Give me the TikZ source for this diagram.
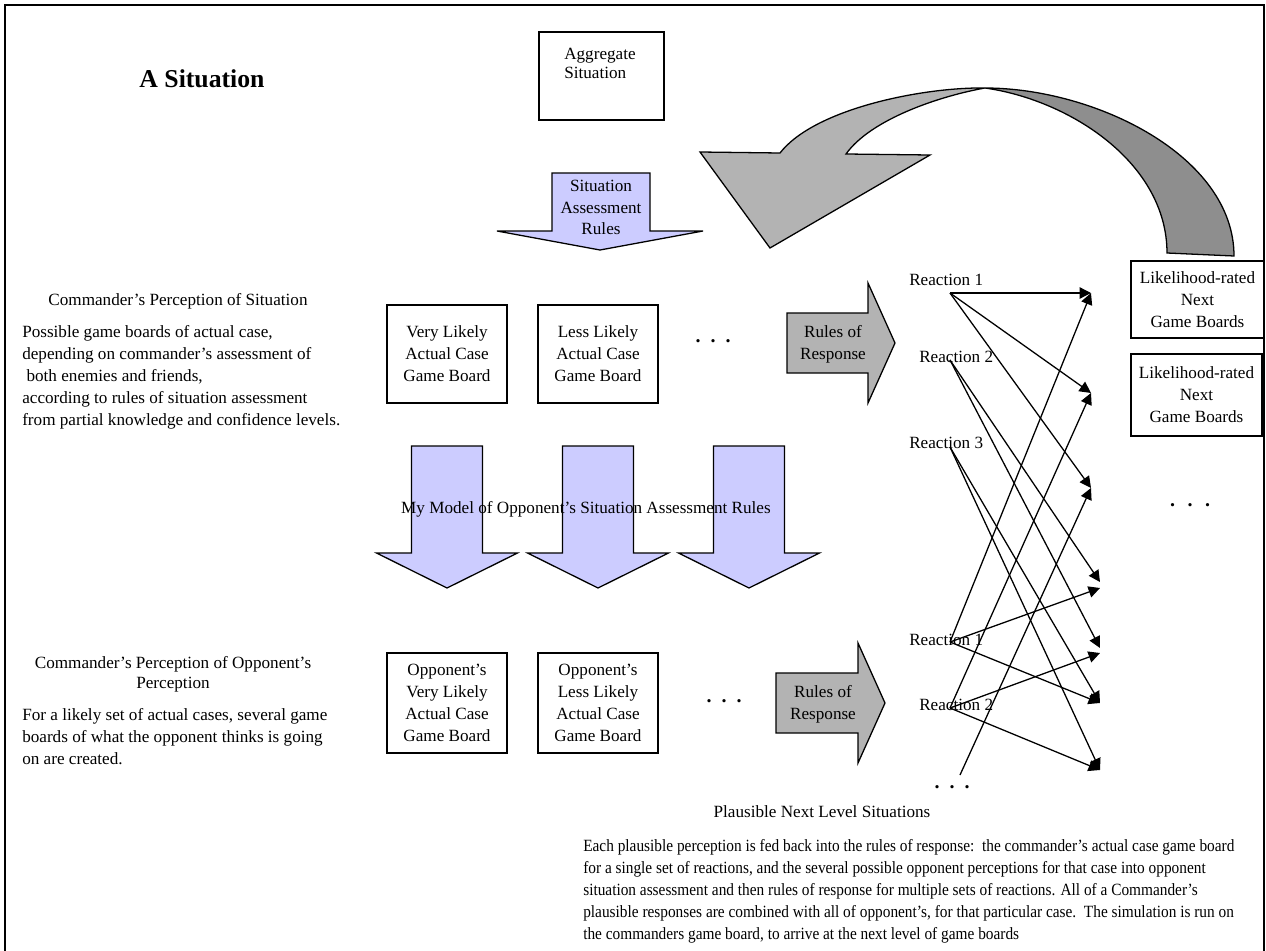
\documentclass[tikz,border=0pt]{standalone}
\usepackage{fontspec}
\setmainfont{Liberation Serif}
\newfontfamily\narrowserif{Liberation Serif}[FakeStretch=0.895, Ligatures=TeX]
\usetikzlibrary{arrows.meta}
\definecolor{lav}{HTML}{CCCCFF}
\definecolor{lgray}{HTML}{B3B3B3}
\definecolor{dgray}{HTML}{8E8E8E}
\begin{document}
\begin{tikzpicture}[x=0.7pt,y=-0.7pt,
  txt/.style={font=\fontsize{12}{15.4}\selectfont, inner sep=0pt},
  boxn/.style={draw, line width=0.9pt, inner sep=0pt, align=center, font=\fontsize{12}{15.4}\selectfont},
  bluearrow/.style={draw, line width=0.9pt, fill=lav},
  grayarrow/.style={draw, line width=0.9pt, fill=lgray},
  react/.style={line width=0.9pt, -{Triangle[length=8pt,width=8pt]}},
  ellip/.style={font=\fontsize{14}{14}\selectfont\bfseries, inner sep=0pt}
]
\useasboundingbox (0,0) rectangle (1266,951);
% frame
\draw[line width=1.5pt] (5,951) -- (5,5) -- (1264,5) -- (1264,951);

% title
\node[font=\fontsize{18}{20}\selectfont\bfseries, inner sep=0pt, anchor=base] (title) at (202,87) {A Situation};

% aggregate situation
\node[draw, line width=0.9pt, minimum width=87.5pt, minimum height=61.6pt, inner sep=0pt] (agg) at (601.5,76) {};
\node[txt, align=left, anchor=north west, font=\fontsize{12}{13.5}\selectfont] (aggt) at (564,47.5) {Aggregate\\Situation};

% situation assessment rules arrow
\draw[bluearrow] (552,173) -- (650,173) -- (650,231) -- (703,231) -- (600,250) -- (497,231) -- (552,231) -- cycle;
\node[txt, align=center, anchor=north, font=\fontsize{12}{15}\selectfont] (sar) at (601,180) {Situation\\Assessment\\Rules};

% curved feedback arrow
\draw[line width=0.9pt, fill=dgray] (985,88) .. controls (1095,88) and (1234,156) .. (1234,256) -- (1167,253) .. controls (1167,163) and (1070,100) .. (985,88) -- cycle;
\draw[line width=0.9pt, fill=lgray] (700,152) -- (780,153) .. controls (815,108) and (925,87) .. (985,88) .. controls (940,96) and (871,119) .. (846,154) -- (930,155) -- (770,248) -- cycle;

% left texts
\node[txt, anchor=base] (cps) at (178,305) {Commander's Perception of Situation};
\node[txt, align=left, anchor=north west] (cpsp) at (22,325) {Possible game boards of actual case,\\depending on commander's assessment of\\\hspace*{3pt}both enemies and friends,\\according to rules of situation assessment\\from partial knowledge and confidence levels.};
\node[txt, align=center, anchor=north, font=\fontsize{12}{14}\selectfont] (cpo) at (173,656) {Commander's Perception of Opponent's\\Perception};
\node[txt, align=left, anchor=north west] (cpop) at (22,708) {For a likely set of actual cases, several game\\boards of what the opponent thinks is going\\on are created.};

% first row boxes
\node[boxn, minimum width=84pt, minimum height=68.6pt] (vl) at (447,354) {Very Likely\\Actual Case\\Game Board};
\node[boxn, minimum width=84pt, minimum height=68.6pt] (ll) at (598,354) {Less Likely\\Actual Case\\Game Board};
\node[ellip] (d1) at (713,341) {.\hspace{7pt}.\hspace{7pt}.};
\draw[grayarrow] (787,313) -- (868,313) -- (868,283) -- (895,343) -- (868,403) -- (868,373) -- (787,373) -- cycle;
\node[txt, align=center] (rr1) at (833,344) {Rules of\\Response};

% blue arrows
\foreach \c in {447,598,749}{
  \draw[bluearrow] ({\c-35.5},446) -- ({\c+35.5},446) -- ({\c+35.5},553) -- ({\c+70.5},553) -- (\c,588) -- ({\c-70.5},553) -- ({\c-35.5},553) -- cycle;
}
\node[txt, anchor=base] (mm) at (586,513) {My Model of Opponent's Situation Assessment Rules};

% second row boxes
\node[boxn, minimum width=84pt, minimum height=70pt] (ovl) at (447,703) {Opponent's\\Very Likely\\Actual Case\\Game Board};
\node[boxn, minimum width=84pt, minimum height=70pt] (oll) at (598,703) {Opponent's\\Less Likely\\Actual Case\\Game Board};
\node[ellip] (d2) at (724,701) {.\hspace{7pt}.\hspace{7pt}.};
\draw[grayarrow] (776,673) -- (858,673) -- (858,643) -- (885,703) -- (858,763) -- (858,733) -- (776,733) -- cycle;
\node[txt, align=center] (rr2) at (823,704) {Rules of\\Response};

% reactions
\node[txt, anchor=base west] (R1) at (909,285) {Reaction 1};
\node[txt, anchor=base west] (R2) at (919,362) {Reaction 2};
\node[txt, anchor=base west] (R3) at (909,448) {Reaction 3};
\node[txt, anchor=base west] (S1) at (909,645) {Reaction 1};
\node[txt, anchor=base west] (S2) at (919,710) {Reaction 2};
\node[ellip] (d4) at (952,787) {.\hspace{7pt}.\hspace{7pt}.};

\coordinate (r1) at (950,293);
\coordinate (r2) at (950,360);
\coordinate (r3) at (950,447);
\coordinate (q1) at (950,642);
\coordinate (q2) at (950,708);
\coordinate (qd) at (960,775);
\coordinate (a1) at (1091,293);
\coordinate (a2) at (1091,393);
\coordinate (a3) at (1091,488);
\coordinate (b1) at (1100,582);
\coordinate (c1) at (1100,588);
\coordinate (b2) at (1100,648);
\coordinate (c2) at (1100,653);
\coordinate (b3) at (1100,703);
\coordinate (b4) at (1100,770);

\draw[react] (r1) -- (a1);
\draw[react] (r1) -- (a2);
\draw[react] (r1) -- (a3);
\draw[react] (r2) -- (b1);
\draw[react] (r2) -- (b2);
\draw[react] (r3) -- (b3);
\draw[react] (r3) -- (b4);
\draw[react] (q1) -- (a1);
\draw[react] (q1) -- (c1);
\draw[react] (q1) -- (b3);
\draw[react] (q2) -- (a2);
\draw[react] (q2) -- (c2);
\draw[react] (q2) -- (b4);
\draw[react] (qd) -- (a3);

% right boxes
\node[boxn, minimum width=93.1pt, minimum height=53.9pt] (lr1) at (1197.5,299.5) {Likelihood-rated\\Next\\Game Boards};
\node[boxn, minimum width=91.7pt, minimum height=57.4pt] (lr2) at (1196.5,395) {Likelihood-rated\\Next\\Game Boards};
\node[ellip] (d3) at (1190,505) {.\hspace{8.75pt}.\hspace{8.75pt}.};

% bottom texts
\node[txt, anchor=base] (pnl) at (822,817) {Plausible Next Level Situations};
\node[txt, align=left, anchor=north west, font=\narrowserif\fontsize{12}{15.4}\selectfont] (expl) at (583,839) {Each plausible perception is fed back into the rules of response:\ \ the commander's actual case game board\\for a single set of reactions, and the several possible opponent perceptions for that case into opponent\\situation assessment and then rules of response for multiple sets of reactions. All of a Commander's\\plausible responses are combined with all of opponent's, for that particular case.\ \ The simulation is run on\\the commanders game board, to arrive at the next level of game boards};
\end{tikzpicture}
\end{document}
